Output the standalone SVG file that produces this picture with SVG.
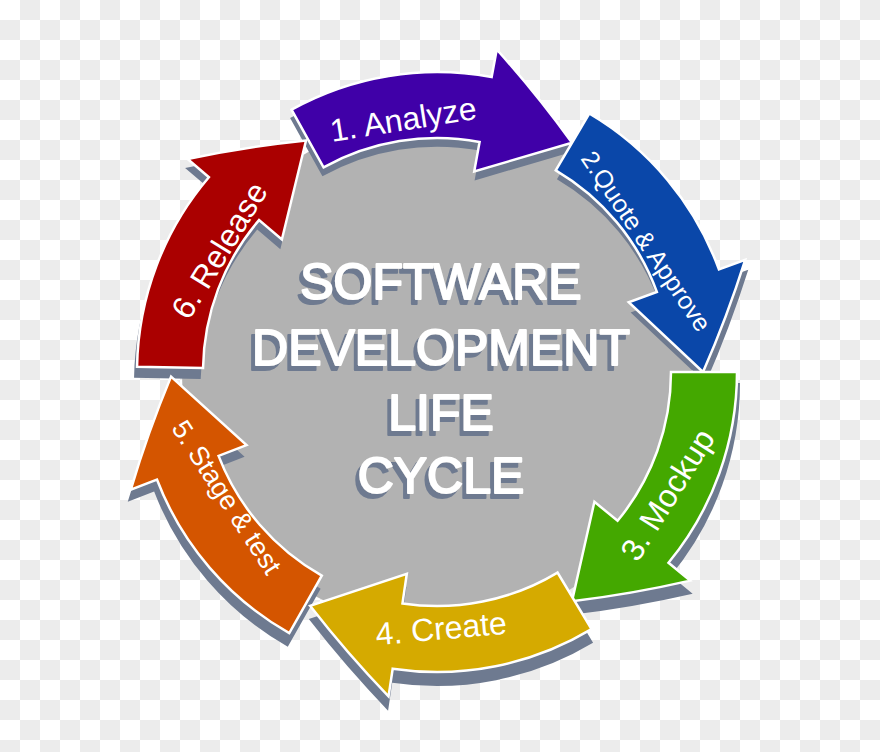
<svg xmlns="http://www.w3.org/2000/svg" xmlns:xlink="http://www.w3.org/1999/xlink" width="880" height="752" viewBox="0 0 880 752">
  <defs>
    <pattern id="checker" width="40" height="40" patternUnits="userSpaceOnUse">
      <rect width="40" height="40" fill="#ffffff"/>
      <rect x="20" y="0" width="20" height="20" fill="#ececec"/>
      <rect x="0" y="20" width="20" height="20" fill="#ececec"/>
    </pattern>
    <filter id="tsh" x="-10%" y="-20%" width="120%" height="140%">
      <feOffset in="SourceAlpha" dx="-4" dy="5" result="off"/>
      <feFlood flood-color="#6e7a90" result="col"/>
      <feComposite in="col" in2="off" operator="in" result="sh"/>
      <feMerge>
        <feMergeNode in="sh"/>
        <feMergeNode in="SourceGraphic"/>
      </feMerge>
    </filter>
    <!-- arrow with tail at 12 o'clock, running clockwise -->
    <path id="arrow" d="M 0 -300 A 300 300 0 0 1 190.8 -231.5 L 208.6 -253.1 Q 222 -195 229.2 -135.0 L 129.8 -157.4 L 148.8 -180.6 A 234 234 0 0 0 0 -234 Z"/>
    <style>
      .arr { stroke: #ffffff; stroke-width: 2.5; stroke-linejoin: miter; }
      .shadow { fill: #6e7a90; }
      .lbl { font-family: "Liberation Sans", Arial, sans-serif; fill: #ffffff; text-anchor: middle; }
      .title { font-family: "Liberation Sans", Arial, sans-serif; font-size: 50px; text-anchor: middle; fill: #ffffff; stroke: #ffffff; stroke-width: 2; stroke-linejoin: round; }
    </style>
  </defs>

  <rect width="880" height="752" fill="url(#checker)"/>

  <circle id="hub" cx="437" cy="372" r="255" fill="#b2b2b2"/>

  <g id="shadows" class="shadow" transform="translate(0,11) translate(437,372) scale(1.01) translate(-437,-372)">
    <use xlink:href="#arrow" transform="translate(437,372) rotate(-29)"/>
    <use xlink:href="#arrow" transform="translate(437,372) rotate(30.5)"/>
    <use xlink:href="#arrow" transform="translate(437,372) rotate(90)"/>
    <use xlink:href="#arrow" transform="translate(437,372) rotate(149)"/>
    <use xlink:href="#arrow" transform="translate(437,372) rotate(209.5)"/>
    <use xlink:href="#arrow" transform="translate(437,372) rotate(271)"/>
  </g>

  <g id="connectors"></g>

  <g id="node-analyze">
    <use xlink:href="#arrow" class="arr" fill="#4000a8" transform="translate(437,372) rotate(-29)"/>
    <text class="lbl" font-size="32" x="403" y="130.5" transform="rotate(-9 403 119)">1. Analyze</text>
  </g>
  <g id="node-quote">
    <use xlink:href="#arrow" class="arr" fill="#0a47a9" transform="translate(437,372) rotate(30.5)"/>
    <text class="lbl" font-size="25" x="646.5" y="250" transform="rotate(56 646.5 241)">2.Quote &amp; Approve</text>
  </g>
  <g id="node-mockup">
    <use xlink:href="#arrow" class="arr" fill="#44a800" transform="translate(437,372) rotate(90)"/>
    <text class="lbl" font-size="32" x="667" y="506" transform="rotate(-58 667 494.5)">3. Mockup</text>
  </g>
  <g id="node-create">
    <use xlink:href="#arrow" class="arr" fill="#d5aa00" transform="translate(437,372) rotate(149)"/>
    <text class="lbl" font-size="32" x="441" y="639.5" transform="rotate(-5 441 628)">4. Create</text>
  </g>
  <g id="node-stage">
    <use xlink:href="#arrow" class="arr" fill="#d45500" transform="translate(437,372) rotate(209.5)"/>
    <text class="lbl" font-size="27" x="227" y="506.7" transform="rotate(57 227 497)">5. Stage &amp; test</text>
  </g>
  <g id="node-release">
    <use xlink:href="#arrow" class="arr" fill="#aa0000" transform="translate(437,372) rotate(271)"/>
    <text class="lbl" font-size="32" x="219" y="261.5" transform="rotate(-58.5 219 250)">6. Release</text>
  </g>

  <g id="title" class="title" filter="url(#tsh)">
    <text x="441" y="299">SOFTWARE</text>
    <text x="441" y="365">DEVELOPMENT</text>
    <text x="441" y="430">LIFE</text>
    <text x="441" y="493">CYCLE</text>
  </g>
</svg>
